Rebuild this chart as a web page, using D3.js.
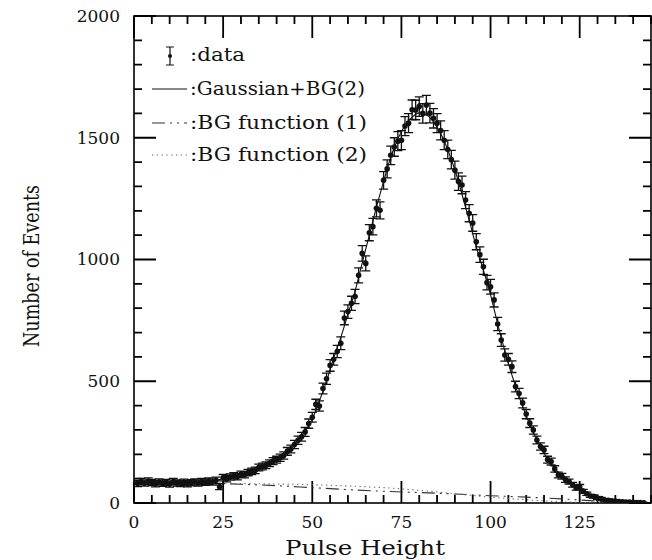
<!DOCTYPE html>
<html>
<head>
<meta charset="utf-8">
<script src="https://cdn.jsdelivr.net/npm/d3@7.9.0/dist/d3.min.js"></script>
<style>
  body { margin: 0; background: #fff; }
  svg { display: block; }
  text { font-family: "DejaVu Serif", serif; fill: #111; }
</style>
</head>
<body>
<div id="chart"></div>
<script>
// measured data points (pulse height bin, number of events, error)
const binX = d3.range(1, 144);
const counts = [
  80, 88, 82, 90, 84, 79, 86, 81, 84, 78,
  88, 82, 80, 85, 79, 83, 86, 82, 88, 85,
  90, 86, 93, 67, 104, 100, 107, 112, 108, 118,
  116, 125, 130, 134, 146, 150, 155, 163, 172, 178,
  186, 195, 212, 222, 240, 258, 272, 292, 326, 352,
  405, 398, 470, 510, 565, 590, 622, 656, 760, 786,
  820, 848, 935, 1025, 984, 1110, 1135, 1210, 1202, 1325,
  1372, 1428, 1462, 1486, 1490, 1548, 1560, 1615, 1614, 1628,
  1600, 1634, 1601, 1580, 1560, 1530, 1490, 1452, 1410, 1367,
  1320, 1306, 1244, 1190, 1150, 1073, 1020, 970, 905, 888,
  834, 735, 669, 608, 590, 560, 478, 450, 411, 365,
  328, 300, 259, 232, 218, 178, 170, 140, 115, 110,
  96, 88, 75, 62, 67, 48, 38, 29, 27, 20,
  18, 12, 11, 9, 8, 6, 5, 4, 4, 3,
  2, 2, 1
];
const errors = [
  13, 13, 13, 13, 13, 13, 13, 13, 13, 13,
  13, 13, 13, 13, 13, 13, 13, 13, 13, 13,
  13, 13, 13, 12, 13, 13, 13, 13, 13, 13,
  13, 13, 13, 13, 14, 14, 14, 14, 14, 14,
  15, 15, 16, 16, 17, 17, 18, 18, 19, 20,
  21, 21, 22, 23, 24, 24, 25, 26, 28, 28,
  29, 29, 31, 32, 31, 33, 34, 35, 35, 36,
  37, 38, 38, 39, 39, 39, 39, 40, 40, 40,
  40, 40, 40, 40, 39, 39, 39, 38, 38, 37,
  36, 36, 35, 35, 34, 33, 32, 31, 30, 30,
  29, 27, 26, 25, 24, 24, 22, 21, 20, 19,
  18, 17, 16, 15, 15, 14, 14, 13, 12, 12,
  11, 10, 10, 9, 9, 8, 7, 6, 6, 5,
  5, 4, 4, 4, 3, 3, 3, 2, 2, 2,
  2, 2, 1
];

// fitted curve Gaussian + BG(2), read every 2 units
const fitX = d3.range(0, 146, 2);
const fitY = [
  85, 85, 85, 85, 85, 84, 84, 84, 85, 86,
  88, 91, 96, 103, 110, 118, 126, 137, 150, 165,
  182, 200, 228, 260, 295, 345, 420, 500, 595, 680,
  775, 870, 985, 1100, 1215, 1320, 1420, 1495, 1550, 1585,
  1602, 1594, 1565, 1517, 1450, 1368, 1267, 1162, 1052, 955,
  855, 735, 625, 525, 437, 358, 290, 230, 182, 142,
  109, 83, 62, 45, 33, 23, 16, 11, 7, 5,
  3, 2, 1
];

// background functions, read every 10 units
const bgX = d3.range(0, 150, 10);
const bg1 = [88, 86, 82, 77, 71, 63, 55, 48, 43, 37, 30, 24, 17, 8, 2];
const bg2 = [84, 83, 82, 80, 78, 75, 70, 63, 52, 38, 24, 13, 5, 1, 0];

const legendItems = [":data", ":Gaussian+BG(2)", ":BG function (1)", ":BG function (2)"];
const xMajor = [0, 25, 50, 75, 100, 125];
const yMajor = [0, 500, 1000, 1500, 2000];

const W = 652, H = 560;
const margin = {left: 134, right: 1, top: 16, bottom: 57};

const svg = d3.select("#chart").append("svg")
  .attr("width", W).attr("height", H);

const x = d3.scaleLinear().domain([0, 145]).range([margin.left, W - margin.right]);
const y = d3.scaleLinear().domain([0, 2000]).range([H - margin.bottom, margin.top]);

const pxL = x.range()[0], pxR = x.range()[1];
const pyB = y.range()[0], pyT = y.range()[1];

svg.append("defs").append("clipPath").attr("id", "plot")
  .append("rect").attr("x", pxL).attr("y", pyT).attr("width", pxR - pxL).attr("height", pyB - pyT);

// ticks on all four sides, pointing inward
const xTicks = d3.range(0, 146, 5);
const yTicks = d3.range(0, 2001, 100);
const xLen = v => (v % 25 === 0 ? 22 : 8);
const yLen = v => (v % 500 === 0 ? 22 : 8);

let tickPath = "";
xTicks.forEach(v => {
  const px = x(v);
  tickPath += `M${px},${pyB}V${pyB - xLen(v)}`;
  tickPath += `M${px},${pyT}V${pyT + xLen(v)}`;
});
yTicks.forEach(v => {
  const py = y(v);
  tickPath += `M${pxL},${py}H${pxL + yLen(v)}`;
  tickPath += `M${pxR},${py}H${pxR - yLen(v)}`;
});
svg.append("path")
  .attr("d", tickPath)
  .attr("fill", "none")
  .attr("stroke", "#000")
  .attr("stroke-width", 1.8);

// tick labels
svg.append("g").selectAll("text").data(xMajor).enter().append("text")
  .attr("x", d => x(d)).attr("y", pyB + 19).attr("dy", "0.35em")
  .attr("text-anchor", "middle").attr("font-size", 17)
  .text(d => d);
svg.append("g").selectAll("text").data(yMajor).enter().append("text")
  .attr("x", pxL - 14).attr("y", d => y(d)).attr("dy", "0.35em")
  .attr("text-anchor", "end").attr("font-size", 17)
  .text(d => d);

// frame
svg.append("rect")
  .attr("x", pxL).attr("y", pyT).attr("width", pxR - pxL).attr("height", pyB - pyT)
  .attr("fill", "none").attr("stroke", "#000").attr("stroke-width", 1.6);

const plot = svg.append("g").attr("clip-path", "url(#plot)");

// background curves
const bgLine = d3.line().x((d, i) => x(bgX[i])).y(d => y(d)).curve(d3.curveMonotoneX);
plot.append("path").datum(bg1)
  .attr("d", bgLine).attr("fill", "none").attr("stroke", "#333")
  .attr("stroke-width", 1.1).attr("stroke-dasharray", "13,5,2,5,2,5");
plot.append("path").datum(bg2)
  .attr("d", bgLine).attr("fill", "none").attr("stroke", "#666")
  .attr("stroke-width", 1.1).attr("stroke-dasharray", "1.3,3.5");

// fit curve
const fitLine = d3.line().x((d, i) => x(fitX[i])).y(d => y(d)).curve(d3.curveMonotoneX);
plot.append("path").datum(fitY)
  .attr("d", fitLine).attr("fill", "none").attr("stroke", "#111").attr("stroke-width", 1.1);

// data with error bars
const pts = binX.map((b, i) => ({x: b, y: counts[i], e: errors[i]}));
const cap = 4.5;
const bars = plot.append("g").attr("stroke", "#111").attr("stroke-width", 1.3);
bars.selectAll(".eb").data(pts).enter().append("path")
  .attr("class", "eb")
  .attr("fill", "none")
  .attr("d", d => {
    const cx = x(d.x), ya = y(d.y + d.e), yb = y(d.y - d.e);
    return `M${cx - cap},${ya}H${cx + cap}M${cx},${ya}V${yb}M${cx - cap},${yb}H${cx + cap}`;
  });
plot.selectAll(".dot").data(pts).enter().append("circle")
  .attr("class", "dot")
  .attr("cx", d => x(d.x)).attr("cy", d => y(d.y))
  .attr("r", 2.8).attr("fill", "#111");

// legend
const legend = svg.append("g");
const lx0 = 152, lx1 = 187, tx = 190;
const rowY = [55, 89, 123, 155];
// data symbol
legend.append("path")
  .attr("d", `M166,47H174M170,47V65M166,65H174`)
  .attr("stroke", "#111").attr("stroke-width", 1.2).attr("fill", "none");
legend.append("circle").attr("cx", 170).attr("cy", 56).attr("r", 2).attr("fill", "#111");
legend.append("line").attr("x1", lx0).attr("x2", lx1).attr("y1", rowY[1]).attr("y2", rowY[1])
  .attr("stroke", "#111").attr("stroke-width", 1.1);
legend.append("line").attr("x1", lx0).attr("x2", lx1).attr("y1", rowY[2]).attr("y2", rowY[2])
  .attr("stroke", "#333").attr("stroke-width", 1.1).attr("stroke-dasharray", "13,5,2,5,2,5");
legend.append("line").attr("x1", lx0).attr("x2", lx1).attr("y1", rowY[3]).attr("y2", rowY[3])
  .attr("stroke", "#666").attr("stroke-width", 1.1).attr("stroke-dasharray", "1.3,3.5");

const legendLen = [55, 175, 177, 177];
legend.selectAll(".lt").data(legendItems).enter().append("text")
  .attr("class", "lt")
  .attr("x", tx).attr("y", (d, i) => rowY[i])
  .attr("dy", "0.35em")
  .attr("font-size", 18)
  .attr("textLength", (d, i) => legendLen[i])
  .attr("lengthAdjust", "spacingAndGlyphs")
  .text(d => d);

// axis titles
svg.append("text")
  .attr("x", 365).attr("y", 548)
  .attr("dy", "0.35em")
  .attr("text-anchor", "middle")
  .attr("font-size", 21)
  .attr("textLength", 160).attr("lengthAdjust", "spacingAndGlyphs")
  .text("Pulse Height");

svg.append("text")
  .attr("transform", `translate(31,266) rotate(-90)`)
  .attr("dy", "0.35em")
  .attr("text-anchor", "middle")
  .attr("font-size", 22)
  .attr("textLength", 162).attr("lengthAdjust", "spacingAndGlyphs")
  .text("Number of Events");
</script>
</body>
</html>
